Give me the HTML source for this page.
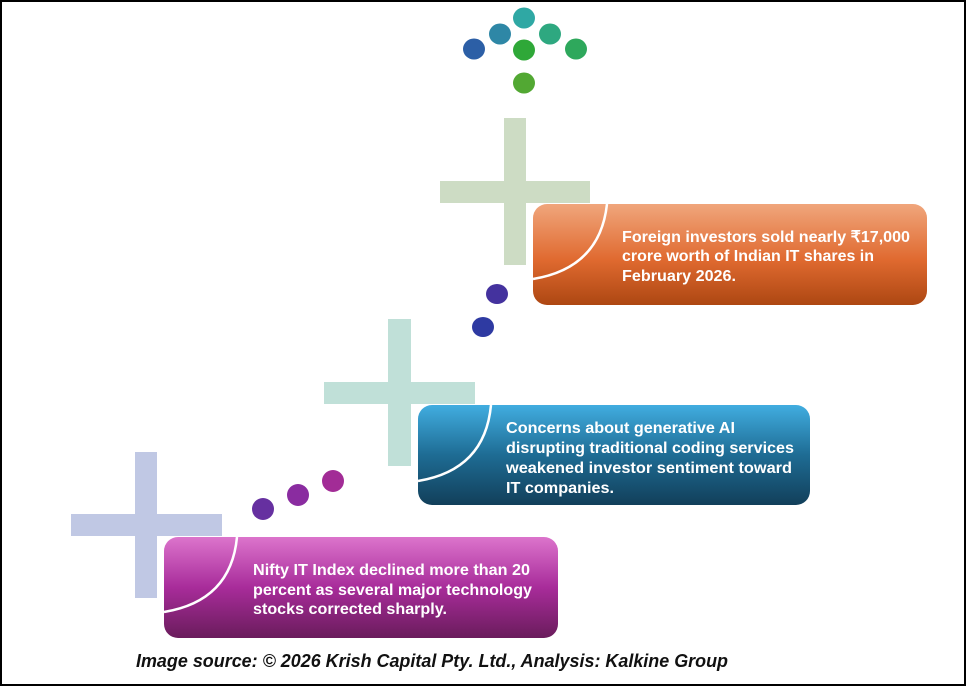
<!DOCTYPE html>
<html><head><meta charset="utf-8"><style>
html,body{margin:0;padding:0;background:#fff}
svg{display:block}
text{font-family:"Liberation Sans",sans-serif;font-weight:bold}
</style></head><body>
<svg width="967" height="687" viewBox="0 0 967 687" xmlns="http://www.w3.org/2000/svg">
<defs>
<linearGradient id="go" x1="0" y1="0" x2="0" y2="1"><stop offset="0" stop-color="#f0a67c"/><stop offset="0.55" stop-color="#e06a30"/><stop offset="1" stop-color="#ad4712"/></linearGradient>
<linearGradient id="gb" x1="0" y1="0" x2="0" y2="1"><stop offset="0" stop-color="#41ade0"/><stop offset="0.5" stop-color="#1e6c94"/><stop offset="1" stop-color="#123f5a"/></linearGradient>
<linearGradient id="gp" x1="0" y1="0" x2="0" y2="1"><stop offset="0" stop-color="#dc74cc"/><stop offset="0.5" stop-color="#a82c9a"/><stop offset="1" stop-color="#6a1c5c"/></linearGradient>
</defs>
<rect x="1" y="1" width="964" height="684" fill="#fff" stroke="#000" stroke-width="2"/>
<ellipse cx="474" cy="49" rx="11" ry="10.5" fill="#2c5fa6"/>
<ellipse cx="500" cy="34" rx="11" ry="10.5" fill="#2e87a6"/>
<ellipse cx="524" cy="18" rx="11" ry="10.5" fill="#2fa8a4"/>
<ellipse cx="550" cy="34" rx="11" ry="10.5" fill="#2ea880"/>
<ellipse cx="576" cy="49" rx="11" ry="10.5" fill="#2ea85c"/>
<ellipse cx="524" cy="50" rx="11" ry="10.5" fill="#2fa838"/>
<ellipse cx="524" cy="83" rx="11" ry="10.5" fill="#52a833"/>
<rect x="504" y="118" width="22" height="147" fill="#cddcc4"/>
<rect x="440" y="181" width="150" height="22" fill="#cddcc4"/>
<rect x="388" y="319" width="23" height="147" fill="#c0e0d8"/>
<rect x="324" y="382" width="151" height="22" fill="#c0e0d8"/>
<rect x="135" y="452" width="22" height="146" fill="#c0c8e4"/>
<rect x="71" y="514" width="151" height="22" fill="#c0c8e4"/>
<ellipse cx="497" cy="294" rx="11" ry="10" fill="#44329e"/>
<ellipse cx="483" cy="327" rx="11" ry="10" fill="#2e3aa2"/>
<ellipse cx="263" cy="509" rx="11" ry="11" fill="#6630a0"/>
<ellipse cx="298" cy="495" rx="11" ry="11" fill="#8a2ca0"/>
<ellipse cx="333" cy="481" rx="11" ry="11" fill="#a22c96"/>
<rect x="533" y="204" width="394" height="101" rx="14" fill="url(#go)"/>
<path d="M607 204 Q600 268 533 279" fill="none" stroke="#fff" stroke-width="2.5"/>
<text fill="#fff" font-size="16"><tspan x="622" y="242" textLength="288" lengthAdjust="spacingAndGlyphs">Foreign investors sold nearly ₹17,000</tspan></text>
<text fill="#fff" font-size="16"><tspan x="622" y="261" textLength="252" lengthAdjust="spacingAndGlyphs">crore worth of Indian IT shares in</tspan></text>
<text fill="#fff" font-size="16"><tspan x="622" y="281" textLength="114" lengthAdjust="spacingAndGlyphs">February 2026.</tspan></text>
<rect x="418" y="405" width="392" height="100" rx="14" fill="url(#gb)"/>
<path d="M491 405 Q485 470 418 481" fill="none" stroke="#fff" stroke-width="2.5"/>
<text fill="#fff" font-size="16"><tspan x="506" y="433" textLength="229" lengthAdjust="spacingAndGlyphs">Concerns about generative AI</tspan></text>
<text fill="#fff" font-size="16"><tspan x="506" y="453" textLength="288" lengthAdjust="spacingAndGlyphs">disrupting traditional coding services</tspan></text>
<text fill="#fff" font-size="16"><tspan x="506" y="473" textLength="286" lengthAdjust="spacingAndGlyphs">weakened investor sentiment toward</tspan></text>
<text fill="#fff" font-size="16"><tspan x="506" y="493" textLength="108" lengthAdjust="spacingAndGlyphs">IT companies.</tspan></text>
<rect x="164" y="537" width="394" height="101" rx="14" fill="url(#gp)"/>
<path d="M237 537 Q231 601 164 612" fill="none" stroke="#fff" stroke-width="2.5"/>
<text fill="#fff" font-size="16"><tspan x="253" y="575" textLength="277" lengthAdjust="spacingAndGlyphs">Nifty IT Index declined more than 20</tspan></text>
<text fill="#fff" font-size="16"><tspan x="253" y="595" textLength="279" lengthAdjust="spacingAndGlyphs">percent as several major technology</tspan></text>
<text fill="#fff" font-size="16"><tspan x="253" y="614" textLength="194" lengthAdjust="spacingAndGlyphs">stocks corrected sharply.</tspan></text>
<text x="136" y="667" font-size="18" font-style="italic" fill="#111" textLength="592" lengthAdjust="spacingAndGlyphs">Image source: © 2026 Krish Capital Pty. Ltd., Analysis: Kalkine Group</text>
</svg>
</body></html>
